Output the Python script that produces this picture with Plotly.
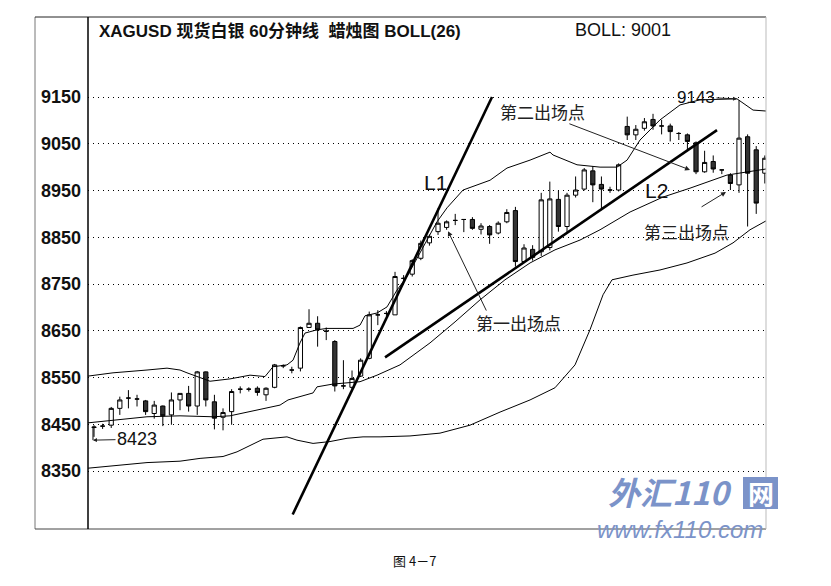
import plotly.graph_objects as go

# ---------------- data ----------------
idx = list(range(79))
opens = [8443, 8446, 8448, 8484, 8506, 8504, 8500, 8473, 8489, 8470,
         8502, 8516, 8489, 8562, 8498, 8465, 8477, 8525, 8525, 8527,
         8513, 8529, 8575, 8566, 8570, 8657, 8666, 8649, 8627, 8532,
         8529, 8553, 8591, 8684, 8687, 8684, 8762, 8771, 8805, 8838,
         8862, 8871, 8886, 8888, 8888, 8867, 8873, 8859, 8883, 8907,
         8798, 8824, 8819, 8828, 8931, 8873, 8940, 8953, 8992, 8963,
         8951, 8951, 9087, 9069, 9083, 9102, 9088, 9088, 9072, 9069,
         9052, 8990, 9012, 8994, 8983, 8962, 9065, 9037, 8987]
highs = [8448, 8451, 8487, 8509, 8523, 8513, 8502, 8500, 8490, 8518,
         8516, 8532, 8564, 8563, 8513, 8484, 8525, 8531, 8529, 8531,
         8529, 8579, 8578, 8573, 8659, 8696, 8681, 8657, 8630, 8587,
         8565, 8591, 8691, 8694, 8692, 8776, 8769, 8803, 8843, 8856,
         8912, 8886, 8900, 8888, 8893, 8880, 8876, 8884, 8910, 8915,
         8835, 8833, 8945, 8969, 8950, 8945, 8980, 8998, 9002, 8980,
         8958, 9008, 9108, 9090, 9105, 9114, 9101, 9093, 9075, 9072,
         9055, 9035, 9025, 8994, 8987, 9143, 9070, 9045, 9025]
lows = [8423, 8440, 8442, 8470, 8484, 8488, 8470, 8462, 8446, 8449,
        8480, 8477, 8470, 8488, 8439, 8437, 8449, 8516, 8520, 8511,
        8500, 8527, 8570, 8559, 8563, 8657, 8616, 8630, 8520, 8525,
        8525, 8551, 8589, 8662, 8682, 8684, 8755, 8766, 8801, 8832,
        8855, 8866, 8876, 8861, 8866, 8856, 8836, 8856, 8880, 8787,
        8795, 8800, 8810, 8822, 8862, 8859, 8935, 8950, 8925, 8908,
        8945, 8948, 9058, 9058, 9078, 9080, 9070, 9055, 9058, 9035,
        8985, 8988, 8988, 8985, 8951, 8945, 8873, 8900, 8965]
closes = [8444, 8446, 8484, 8502, 8506, 8504, 8477, 8491, 8468, 8502,
          8516, 8489, 8562, 8502, 8463, 8475, 8520, 8525, 8525, 8518,
          8527, 8577, 8575, 8566, 8657, 8666, 8652, 8649, 8532, 8532,
          8548, 8587, 8684, 8684, 8687, 8766, 8762, 8800, 8837, 8852,
          8880, 8883, 8886, 8888, 8869, 8874, 8855, 8880, 8903, 8798,
          8827, 8807, 8930, 8932, 8873, 8940, 8951, 8994, 8962, 8953,
          8951, 9005, 9069, 9081, 9097, 9088, 9088, 9076, 9072, 9055,
          8990, 9010, 8996, 8994, 8965, 9062, 8987, 8923, 9019]

# Bollinger band lines, read as (position, price) points
upper_x = [-0.7, 2.21, 6.16, 8.49, 10.0, 10.81, 13.49, 15.81, 18.14, 19.88,
           20.81, 22.44, 23.14, 23.95, 24.53, 25.93, 27.09, 30.12, 30.93, 31.51,
           32.91, 34.07, 35.23, 36.40, 37.56, 38.72, 39.88, 41.05, 42.91, 46.05,
           48.02, 50.70, 53.02, 53.37, 56.16, 58.84, 60.81, 61.98, 63.49, 65.81,
           68.14, 70.47, 74.77, 76.63, 78.14]
upper_y = [8553, 8560, 8566, 8570, 8566, 8560, 8542, 8547, 8555, 8552,
           8573, 8577, 8587, 8624, 8645, 8652, 8655, 8655, 8662, 8682,
           8688, 8701, 8737, 8766, 8805, 8844, 8883, 8913, 8951, 8972,
           8998, 9015, 9032, 9026, 9005, 9000, 9000, 9015, 9058, 9101,
           9133, 9144, 9146, 9122, 9120]
mid_x = [-0.7, 2.21, 6.16, 10.0, 13.84, 15.81, 17.79, 21.63, 22.56, 25.47,
         25.93, 27.79, 30.93, 32.91, 35.58, 39.07, 41.98, 44.88, 47.79, 50.70,
         53.60, 56.51, 58.84, 62.33, 66.16, 69.30, 73.60, 78.14]
mid_y = [8453, 8459, 8466, 8468, 8466, 8468, 8476, 8491, 8502, 8517,
         8530, 8536, 8541, 8555, 8577, 8624, 8669, 8716, 8759, 8795,
         8823, 8844, 8866, 8904, 8936, 8955, 8983, 8996]
lower_x = [-0.7, 2.21, 6.16, 10.0, 12.33, 15.0, 16.63, 19.65, 22.44, 23.6,
           25.47, 27.44, 29.42, 31.28, 33.26, 36.74, 40.23, 43.72, 47.21, 50.70,
           53.6, 55.93, 57.67, 59.19, 60.23, 62.67, 65.81, 68.95, 72.21, 74.3,
           76.28, 78.14]
lower_y = [8356, 8361, 8368, 8371, 8377, 8381, 8391, 8418, 8423, 8416,
           8409, 8413, 8420, 8423, 8423, 8425, 8431, 8448, 8476, 8502,
           8528, 8577, 8652, 8727, 8759, 8769, 8780, 8795, 8816, 8838,
           8866, 8885]

# trend lines (position, price at both ends)
L1_x = [23.1, 46.28]
L1_y = [8257, 9150]
L2_x = [33.84, 72.44]
L2_y = [8593, 9079]

tick_vals = [9150, 9050, 8950, 8850, 8750, 8650, 8550, 8450, 8350]
tick_text = ["9150", "9050", "8950", "8850", "8750", "8650", "8550", "8450", "8350"]

title_text = "XAGUSD 现货白银 60分钟线  蜡烛图 BOLL(26)"
boll_text = "BOLL: 9001"
caption = "图 4－7"

# ---------------- figure ----------------
# the page body adds an 8px offset, so the figure is drawn 8px smaller
OFF = 8
W, H = 831 - OFF, 586 - OFF
L, R, T, B = 88 - OFF, 65, 17 - OFF, 57
pw, ph = W - L - R, H - T - B


def px(xp):
    return (xp - OFF - L) / pw


def py(yp):
    return (H - B - (yp - OFF)) / ph


fig = go.Figure()
line_style = dict(color="black", width=1)
for bx, by in [(upper_x, upper_y), (mid_x, mid_y), (lower_x, lower_y)]:
    fig.add_trace(go.Scatter(x=bx, y=by, mode="lines", line=line_style,
                             hoverinfo="skip", showlegend=False))

fig.add_trace(go.Candlestick(
    x=idx, open=opens, high=highs, low=lows, close=closes,
    increasing=dict(line=dict(color="black", width=1), fillcolor="white"),
    decreasing=dict(line=dict(color="black", width=1), fillcolor="#333333"),
    whiskerwidth=0, showlegend=False))

for lx, ly in [(L1_x, L1_y), (L2_x, L2_y)]:
    fig.add_trace(go.Scatter(x=lx, y=ly, mode="lines",
                             line=dict(color="black", width=2.6),
                             hoverinfo="skip", showlegend=False))

x0 = -0.70
x1 = x0 + pw / 8.6
ymax = 9150 + (97 - 17) / 0.4675
ymin = 9150 - (529 - 97) / 0.4675

fig.update_layout(
    width=W, height=H, margin=dict(l=L, r=R, t=T, b=B, autoexpand=False),
    paper_bgcolor="white", plot_bgcolor="white",
    showlegend=False,
    xaxis=dict(range=[x0, x1], showgrid=False, zeroline=False, showticklabels=False,
               ticks="", showline=False, rangeslider=dict(visible=False), fixedrange=True,
               automargin=False),
    yaxis=dict(range=[ymin, ymax], tickvals=tick_vals,
               ticktext=["<b>" + t + "</b>" for t in tick_text],
               showgrid=True, gridcolor="black", gridwidth=1, griddash="1px,4px",
               zeroline=False, showline=False, ticks="", automargin=False,
               tickfont=dict(family="Liberation Sans", size=18, color="#111"),
               ticklabelstandoff=6),
    font=dict(family="Liberation Sans, Noto Sans CJK SC", color="black"),
)

wm_color = "#7b93c9"
shapes = []
# frame
shapes.append(dict(type="line", xref="paper", yref="paper", x0=px(35), x1=px(35), y0=0, y1=1,
                   line=dict(color="#777", width=1)))
shapes.append(dict(type="line", xref="paper", yref="paper", x0=px(35), x1=1, y0=1, y1=1,
                   line=dict(color="#222", width=1)))
shapes.append(dict(type="line", xref="paper", yref="paper", x0=px(35), x1=1, y0=0, y1=0,
                   line=dict(color="#444", width=1)))
shapes.append(dict(type="line", xref="paper", yref="paper", x0=0, x1=0, y0=0, y1=1,
                   line=dict(color="black", width=1.5)))
shapes.append(dict(type="line", xref="paper", yref="paper", x0=1, x1=1, y0=0, y1=1,
                   line=dict(color="#bbb", width=1)))
# bracket at the first low
shapes.append(dict(type="line", xref="x", yref="y", x0=-0.12, x1=-0.12, y0=8444, y1=8416,
                   line=dict(color="black", width=1)))
# watermark box behind 网
shapes.append(dict(type="rect", xref="paper", yref="paper", x0=px(743), x1=px(778),
                   y0=py(509), y1=py(477), fillcolor=wm_color, line=dict(width=0), layer="above"))
fig.update_layout(shapes=shapes)

cjk = "Noto Sans CJK SC"
ann = []
ann.append(dict(xref="paper", yref="paper", x=px(97), y=py(31), xanchor="left", yanchor="middle",
                text="<b>" + title_text + "</b>", showarrow=False,
                font=dict(family="Liberation Sans, " + cjk, size=17, color="#111")))
ann.append(dict(xref="paper", yref="paper", x=px(573), y=py(30), xanchor="left", yanchor="middle",
                text=boll_text, showarrow=False,
                font=dict(family="Liberation Sans", size=18, color="#111")))
ann.append(dict(xref="paper", yref="paper", x=px(414), y=py(560), xanchor="center", yanchor="middle",
                text=caption, showarrow=False, font=dict(family=cjk, size=13, color="#111")))
# trend line labels
ann.append(dict(x=39.65, y=8968, text="L1", showarrow=False,
                font=dict(family="Liberation Sans", size=21, color="#111")))
ann.append(dict(x=65.35, y=8951, text="L2", showarrow=False,
                font=dict(family="Liberation Sans", size=21, color="#111")))
# exit points
ann.append(dict(x=69.3, y=8994, ax=55.1, ay=9094, axref="x", ayref="y",
                text="", showarrow=True, arrowhead=2, arrowsize=1, arrowwidth=1, arrowcolor="#222"))
ann.append(dict(x=52.2, y=9120, text="第二出场点", showarrow=False,
                font=dict(family=cjk, size=17, color="#222")))
ann.append(dict(x=41.16, y=8863, ax=45.7, ay=8690, axref="x", ayref="y",
                text="", showarrow=True, arrowhead=2, arrowsize=1, arrowwidth=1, arrowcolor="#222"))
ann.append(dict(x=49.3, y=8667, text="第一出场点", showarrow=False,
                font=dict(family=cjk, size=17, color="#222")))
ann.append(dict(x=73.49, y=8947, ax=70.47, ay=8913, axref="x", ayref="y",
                text="", showarrow=True, arrowhead=2, arrowsize=1, arrowwidth=1, arrowcolor="#222"))
ann.append(dict(x=68.9, y=8863, text="第三出场点", showarrow=False,
                font=dict(family=cjk, size=17, color="#222")))
# extremes
ann.append(dict(x=74.77, y=9146, ax=70.0, ay=9150, axref="x", ayref="y",
                text="9143", showarrow=True, arrowhead=2, arrowsize=0.8, arrowwidth=1,
                arrowcolor="#222", font=dict(family="Liberation Sans", size=17, color="#111")))
ann.append(dict(x=-0.12, y=8416, ax=5.0, ay=8418, axref="x", ayref="y",
                text="8423", showarrow=True, arrowhead=2, arrowsize=0.8, arrowwidth=1,
                arrowcolor="#222", font=dict(family="Liberation Sans", size=18, color="#111")))
# watermark
ann.append(dict(xref="paper", yref="paper", x=px(670), y=py(491), xanchor="center", yanchor="middle",
                text="<b><i>外汇110</i></b>",
                showarrow=False, font=dict(family=cjk, size=32, color=wm_color)))
ann.append(dict(xref="paper", yref="paper", x=px(760.5), y=py(492), xanchor="center", yanchor="middle",
                text="<b>网</b>",
                showarrow=False, font=dict(family=cjk, size=26, color="white")))
ann.append(dict(xref="paper", yref="paper", x=px(680), y=py(529), xanchor="center", yanchor="middle",
                text="<i>www.fx110.com</i>", showarrow=False,
                font=dict(family="Liberation Sans", size=24, color=wm_color)))
fig.update_layout(annotations=ann)

fig.write_html("out.html")
